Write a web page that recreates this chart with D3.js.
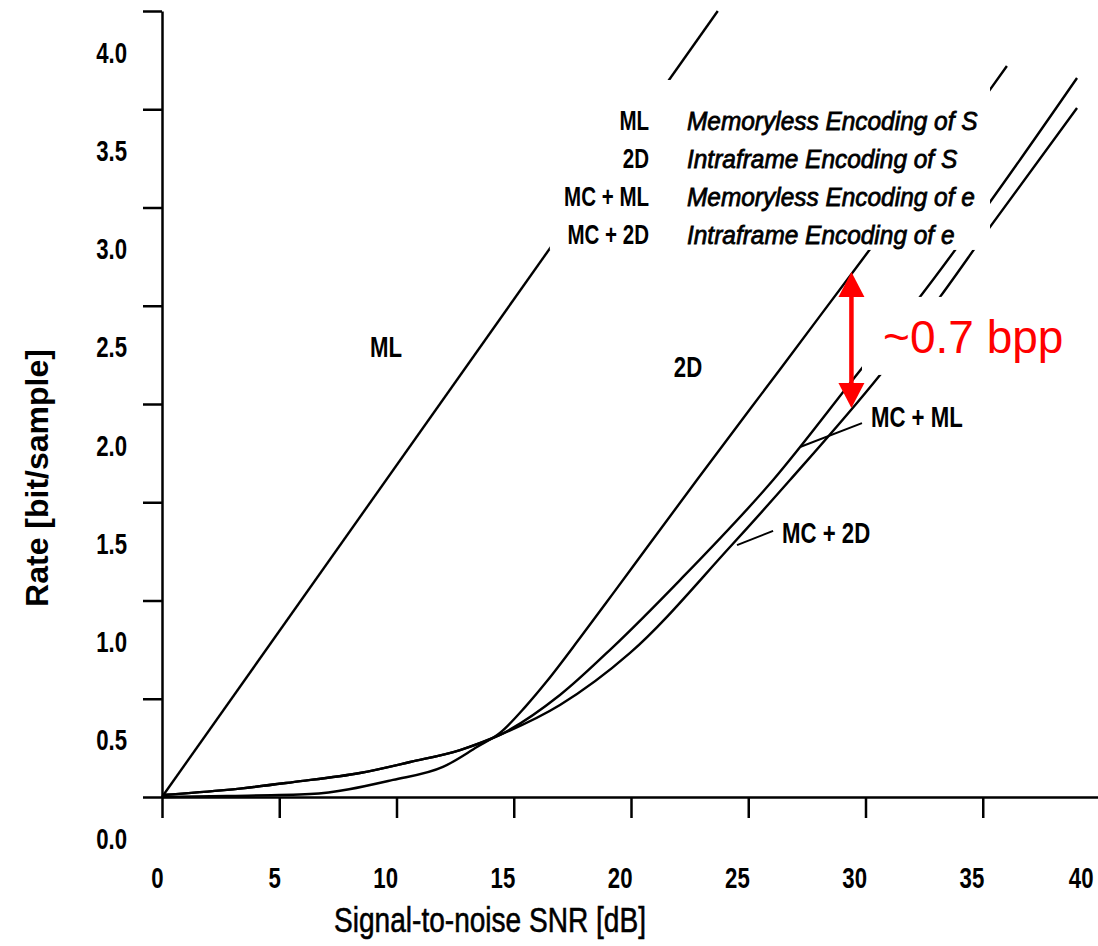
<!DOCTYPE html>
<html>
<head>
<meta charset="utf-8">
<script src="https://cdn.jsdelivr.net/npm/d3@7"></script>
<style>
  html, body { margin: 0; padding: 0; background: #fff; }
  svg { display: block; }
  text { font-family: "Liberation Sans", Arial, Helvetica, sans-serif; fill: #000; }
</style>
</head>
<body>
<svg id="chart" width="1098" height="946"></svg>
<script>
// ---------------- data ----------------
const xTicks = [0, 5, 10, 15, 20, 25, 30, 35, 40];
const yTicks = [0, 0.5, 1.0, 1.5, 2.0, 2.5, 3.0, 3.5, 4.0];

// ML : memoryless encoding of S
const snrML  = [0, 23.7];
const rateML = [0, 4.0];

// 2D : intraframe encoding of S
const snr2D  = [0, 2.77, 6.31, 9.85, 11.98, 13.43, 14.41, 15.5, 16.42, 17.83, 19.23, 20.68, 22.81, 26.44, 29.85, 35.31, 36.03];
const rate2D = [0, 0.005, 0.015, 0.087, 0.153, 0.254, 0.326, 0.46, 0.59, 0.81, 1.035, 1.27, 1.613, 2.19, 2.733, 3.60, 3.72];

// MC + ML : memoryless encoding of e
const snrMCML  = [0, 2.77, 5.59, 8.44, 10.58, 12.71, 14.41, 16.97, 19.23, 22.09, 26.06, 29.89, 32.32, 35.31, 39.02];
const rateMCML = [0.01, 0.036, 0.076, 0.122, 0.178, 0.239, 0.316, 0.519, 0.763, 1.104, 1.613, 2.188, 2.545, 3.028, 3.659];

// MC + 2D : intraframe encoding of e
const snrMC2D  = [0, 2.77, 5.59, 8.44, 10.58, 12.71, 14.41, 16.97, 19.96, 24.22, 26.78, 30.62, 33.18, 35.22, 39.02];
const rateMC2D = [0.01, 0.036, 0.076, 0.122, 0.178, 0.239, 0.316, 0.468, 0.733, 1.272, 1.613, 2.148, 2.545, 2.886, 3.506];

const legendAbbr = ["ML", "2D", "MC + ML", "MC + 2D"];
const legendDesc = ["Memoryless Encoding of S", "Intraframe Encoding of S", "Memoryless Encoding of e", "Intraframe Encoding of e"];

// annotation: gap between 2D and MC+2D at ~30 dB
const gapSNR = 29.4;
const gapTop = 2.672;
const gapBottom = 1.98;
const gapText = "~0.7 bpp";

// ---------------- layout ----------------
const W = 1098;
const svg = d3.select("#chart");
const x = d3.scaleLinear().domain([0, 40]).range([162, 1100]);
const y = d3.scaleLinear().domain([0, 4]).range([797, 11]);

const zip = (a, b) => a.map((v, i) => [v, b[i]]);
const line = d3.line().x(d => x(d[0])).y(d => y(d[1])).curve(d3.curveMonotoneX);

function label(parent, txt, px, py, o) {
  const t = parent.append("text")
    .attr("transform", `translate(${px},${py}) scale(${o.sx || 1},1)`)
    .attr("text-anchor", o.anchor || "start")
    .style("font-size", (o.size || 30) + "px")
    .style("font-weight", o.weight || "bold")
    .style("font-style", o.style || "normal")
    .text(txt);
  if (o.fill) t.style("fill", o.fill);
  if (o.stroke) t.style("stroke", o.fill || "#000").style("stroke-width", o.stroke);
  return t;
}

// curves
const curves = [zip(snrML, rateML), zip(snr2D, rate2D), zip(snrMCML, rateMCML), zip(snrMC2D, rateMC2D)];
svg.append("g").selectAll("path").data(curves).join("path")
  .attr("d", d => line(d))
  .attr("fill", "none").attr("stroke", "#000").attr("stroke-width", 2.4)
  .attr("stroke-linejoin", "round");

// white masks behind the legend and the red annotation text
const masks = [
  { s0: 16.54, s1: 35.31, r0: 2.784, r1: 3.649 },
  { s0: 29.85, s1: 39.15, r0: 2.148, r1: 2.545 }
];
svg.append("g").selectAll("rect").data(masks).join("rect")
  .attr("x", d => x(d.s0)).attr("width", d => x(d.s1) - x(d.s0))
  .attr("y", d => y(d.r1)).attr("height", d => y(d.r0) - y(d.r1))
  .attr("fill", "#fff");

// axes
const xAxis = d3.axisBottom(x).tickValues(xTicks).tickSize(21).tickSizeOuter(0).tickFormat(d3.format("d"));
const gx = svg.append("g").attr("transform", `translate(0,${y(0)})`).call(xAxis);
const yAxis = d3.axisLeft(y).tickValues(yTicks).tickSize(19).tickSizeOuter(0).tickFormat(d3.format(".1f"));
const gy = svg.append("g").attr("transform", `translate(${x(0)},0)`).call(yAxis);

[gx, gy].forEach(g => {
  g.select(".domain").attr("stroke", "#000").attr("stroke-width", 2.5);
  g.selectAll(".tick line").attr("stroke", "#000").attr("stroke-width", 2.5);
  g.selectAll(".tick text")
    .attr("x", 0).attr("y", 0).attr("dy", 0)
    .attr("text-anchor", "end")
    .style("font-family", "'Liberation Sans', Arial, sans-serif")
    .style("font-size", "30px").style("font-weight", "bold").attr("fill", "#000");
});
gx.selectAll(".tick text").attr("transform", d => `translate(${Math.min(1, W - 5 - x(d))},91) scale(0.74,1)`);
gy.selectAll(".tick text").attr("transform", "translate(-35,51) scale(0.74,1)");

// axis titles
label(svg, "Signal-to-noise SNR [dB]", 490, 932, { size: 36, weight: "normal", sx: 0.78, anchor: "middle", stroke: 0.6 });
svg.append("text")
  .attr("transform", "translate(48,478) rotate(-90)")
  .attr("text-anchor", "middle")
  .style("font-size", "32px").style("font-weight", "bold")
  .text("Rate [bit/sample]");

// curve labels
label(svg, "ML", x(9.55), y(2.239), { size: 30, sx: 0.74, anchor: "middle" });
label(svg, "2D", x(22.43), y(2.137), { size: 30, sx: 0.74, anchor: "middle" });
label(svg, "MC + ML", x(30.23), y(1.883), { size: 30, sx: 0.74 });
label(svg, "MC + 2D", x(26.44), y(1.293), { size: 30, sx: 0.74 });

// leader lines
const leaders = [
  [[29.85, 1.903], [27.21, 1.781]],
  [[26.06, 1.354], [24.52, 1.282]]
];
svg.append("g").selectAll("path").data(leaders).join("path")
  .attr("d", d3.line().x(d => x(d[0])).y(d => y(d[1])))
  .attr("stroke", "#000").attr("stroke-width", 2).attr("fill", "none");

// legend
const lg = svg.append("g");
legendAbbr.forEach((a, i) => {
  const by = 130 + i * 38;
  label(lg, a, 649, by, { size: 27, sx: 0.76, anchor: "end" });
  label(lg, legendDesc[i], 687, by, { size: 26, weight: "normal", style: "italic", sx: 0.94, stroke: 0.8 });
});

// red double arrow
const red = "#ff0000";
const ax = x(gapSNR), ay0 = y(gapTop), ay1 = y(gapBottom);
const ah = 25, aw = 13;
svg.append("line").attr("x1", ax).attr("x2", ax).attr("y1", ay0 + ah - 2).attr("y2", ay1 - ah + 2)
  .attr("stroke", red).attr("stroke-width", 4.5);
svg.append("path").attr("fill", red)
  .attr("d", `M${ax},${ay0} L${ax - aw},${ay0 + ah} L${ax + aw},${ay0 + ah} Z`);
svg.append("path").attr("fill", red)
  .attr("d", `M${ax},${ay1} L${ax - aw},${ay1 - ah} L${ax + aw},${ay1 - ah} Z`);
label(svg, gapText, x(30.75), y(2.26), { size: 46, weight: "normal", fill: red });
</script>
</body>
</html>
